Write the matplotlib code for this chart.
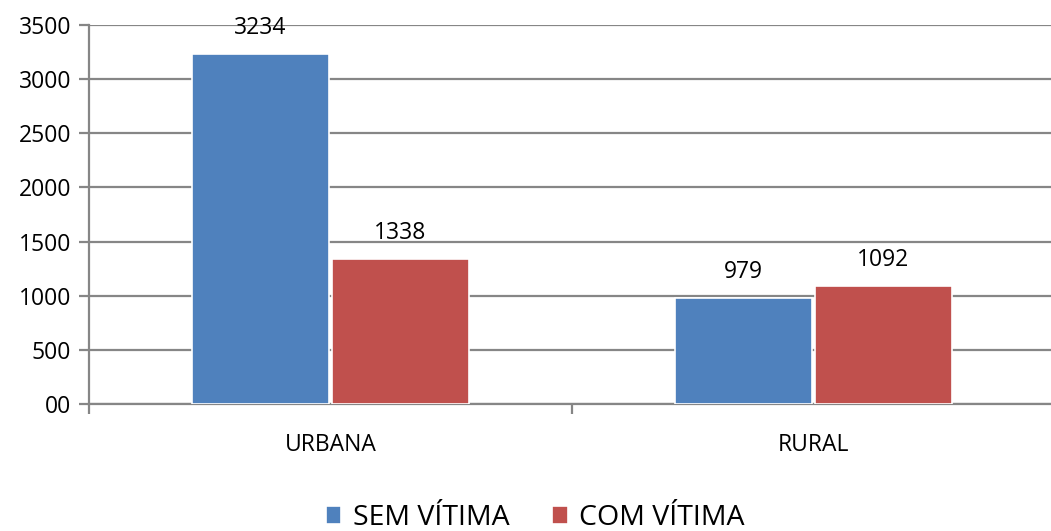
import numpy as np
import matplotlib
matplotlib.use('Agg')
import matplotlib.pyplot as plt

# data
categories = ['URBANA', 'RURAL']
sem_vitima = [3234, 979]
com_vitima = [1338, 1092]
series_names = ['SEM VÍTIMA', 'COM VÍTIMA']
y_ticks = [0, 500, 1000, 1500, 2000, 2500, 3000, 3500]
y_tick_labels = ['00', '500', '1000', '1500', '2000', '2500', '3000', '3500']

plt.rcParams['font.family'] = ['Open Sans', 'DejaVu Sans']

blue = '#4F81BD'
red = '#C0504D'
grid_gray = '#868686'

fig = plt.figure(figsize=(10.51, 5.31), dpi=100)
ax = fig.add_axes([89 / 1051, 127 / 531, 966 / 1051, 379 / 531])

x = np.arange(len(categories))
w = 0.284
off = 0.145
b1 = ax.bar(x - off, sem_vitima, w, color=blue, edgecolor='white', linewidth=1.2, label=series_names[0], zorder=3)
b2 = ax.bar(x + off, com_vitima, w, color=red, edgecolor='white', linewidth=1.2, label=series_names[1], zorder=3)

for bars in (b1, b2):
    for b in bars:
        ax.annotate(str(int(b.get_height())), (b.get_x() + b.get_width() / 2, b.get_height()),
                    xytext=(0, 10), textcoords='offset points', ha='center', va='bottom', fontsize=16.5)

ax.set_xlim(-0.5, 1.5)
ax.set_ylim(0, 3500)
ax.set_yticks(y_ticks)
ax.set_yticklabels(y_tick_labels, fontsize=16.5)
ax.yaxis.grid(True, color=grid_gray, linewidth=1.6, zorder=0)
ax.tick_params(axis='y', length=7, width=1.6, color=grid_gray, pad=6)

ax.set_xticks([-0.5, 0.5, 1.5])
ax.set_xticklabels([])
ax.set_xticks(x, minor=True)
ax.set_xticklabels(categories, minor=True, fontsize=16.5)
ax.tick_params(axis='x', which='major', length=7, width=1.6, color=grid_gray)
ax.tick_params(axis='x', which='minor', length=0, pad=21)

for s in ['top', 'right']:
    ax.spines[s].set_visible(False)
for s in ['left', 'bottom']:
    ax.spines[s].set_color(grid_gray)
    ax.spines[s].set_linewidth(1.6)

fig.legend(handles=[b1, b2], labels=series_names, loc='center', bbox_to_anchor=(535 / 1051, 1 - 518 / 531),
           ncol=2, frameon=False, fontsize=20.5, handlelength=0.55, handleheight=0.55,
           handletextpad=0.4, columnspacing=1.5)

fig.savefig('out.png', dpi=100)
